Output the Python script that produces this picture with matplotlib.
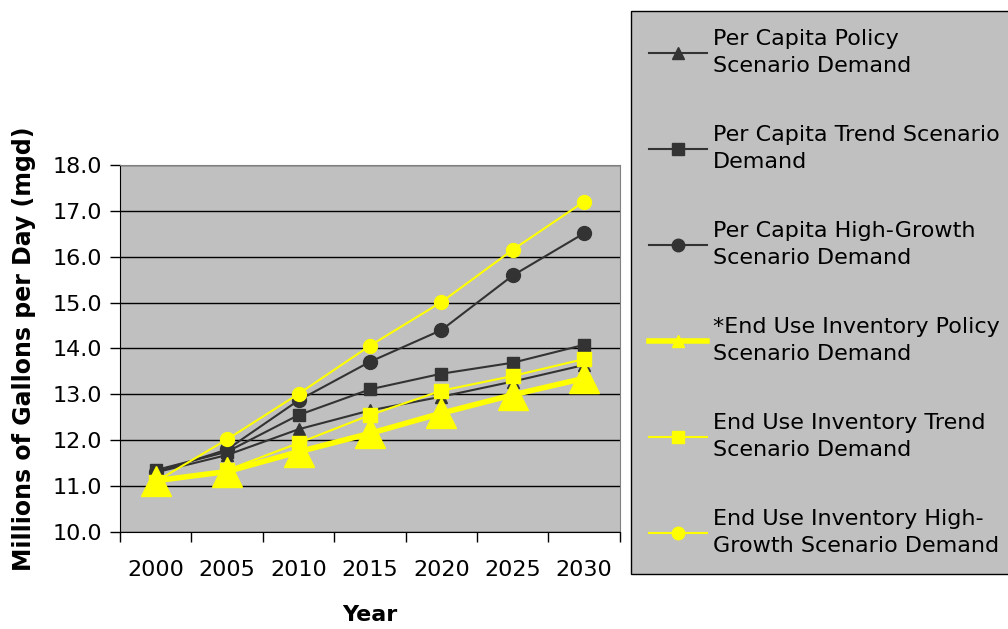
import numpy as np
import matplotlib
matplotlib.use('Agg')
import matplotlib.pyplot as plt

years = ['2000', '2005', '2010', '2015', '2020', '2025', '2030']

pc_policy = [11.30, 11.68, 12.24, 12.65, 12.95, 13.28, 13.64]
pc_trend = [11.35, 11.75, 12.55, 13.11, 13.45, 13.69, 14.08]
pc_high = [11.30, 11.80, 12.87, 13.71, 14.40, 15.59, 16.51]
eui_policy = [11.12, 11.32, 11.75, 12.15, 12.59, 12.99, 13.35]
eui_trend = [11.10, 11.35, 11.94, 12.55, 13.08, 13.40, 13.77]
eui_high = [11.10, 12.02, 13.01, 14.06, 15.01, 16.15, 17.20]

labels = ['Per Capita Policy\nScenario Demand',
          'Per Capita Trend Scenario\nDemand',
          'Per Capita High-Growth\nScenario Demand',
          '*End Use Inventory Policy\nScenario Demand',
          'End Use Inventory Trend\nScenario Demand',
          'End Use Inventory High-\nGrowth Scenario Demand']

plt.rcParams['font.family'] = 'DejaVu Sans'

dark = '#333333'
yel = '#FFFF00'
gray = '#C0C0C0'

fig = plt.figure(figsize=(10.08, 6.29), dpi=100)
ax = fig.add_axes([0.119, 0.154, 0.496, 0.584])
ax.set_facecolor(gray)

x = np.arange(len(years))

l1, = ax.plot(x, pc_policy, color=dark, lw=1.5, marker='^', ms=8, zorder=3)
l2, = ax.plot(x, pc_trend, color=dark, lw=1.5, marker='s', ms=9, zorder=3)
l3, = ax.plot(x, pc_high, color=dark, lw=1.5, marker='o', ms=10, zorder=3)
l4, = ax.plot(x, eui_policy, color=yel, lw=4, marker='^', ms=22, zorder=6)
l5, = ax.plot(x, eui_trend, color=yel, lw=1.5, marker='s', ms=9.5, zorder=5)
l6, = ax.plot(x, eui_high, color=yel, lw=1.5, marker='o', ms=10, zorder=5)

ax.set_xlim(-0.5, len(years) - 0.5)
ax.set_ylim(10, 18)
ax.set_yticks(np.arange(10, 18.5, 1))
ax.set_yticklabels(['%.1f' % v for v in np.arange(10, 18.5, 1)])
ax.set_xticks(x)
ax.set_xticklabels(years)
ax.set_xticks(np.arange(-0.5, len(years), 1), minor=True)
ax.tick_params(axis='x', which='major', length=0, pad=20, labelsize=16)
ax.tick_params(axis='x', which='minor', length=7, width=1, color='black', direction='out')
ax.tick_params(axis='y', length=7, width=1, pad=6, labelsize=16, direction='out')
ax.grid(axis='y', color='black', lw=1, zorder=1)
ax.set_axisbelow(True)
for s in ['top', 'right']:
    ax.spines[s].set_color('#808080')
for s in ['left', 'bottom']:
    ax.spines[s].set_color('black')

ax.set_xlabel('Year', fontsize=16, fontweight='bold', labelpad=18)
ax.set_ylabel('Millions of Gallons per Day (mgd)', fontsize=17, fontweight='bold', labelpad=12)

leg = fig.legend([l1, l2, l3, l4, l5, l6], labels, loc='upper left',
                 bbox_to_anchor=(631 / 1008, 1 - 11 / 629), fontsize=16,
                 frameon=True, fancybox=False, edgecolor='black', facecolor=gray,
                 framealpha=1, labelspacing=2.2, handlelength=2.6, handletextpad=0.3,
                 borderpad=0.8, borderaxespad=0, markerscale=1)
leg.get_frame().set_linewidth(1)
for t in leg.get_texts():
    t.set_linespacing(1.45)
for h in leg.legend_handles:
    h.set_markersize(9)

fig.savefig('out.png', dpi=100)
